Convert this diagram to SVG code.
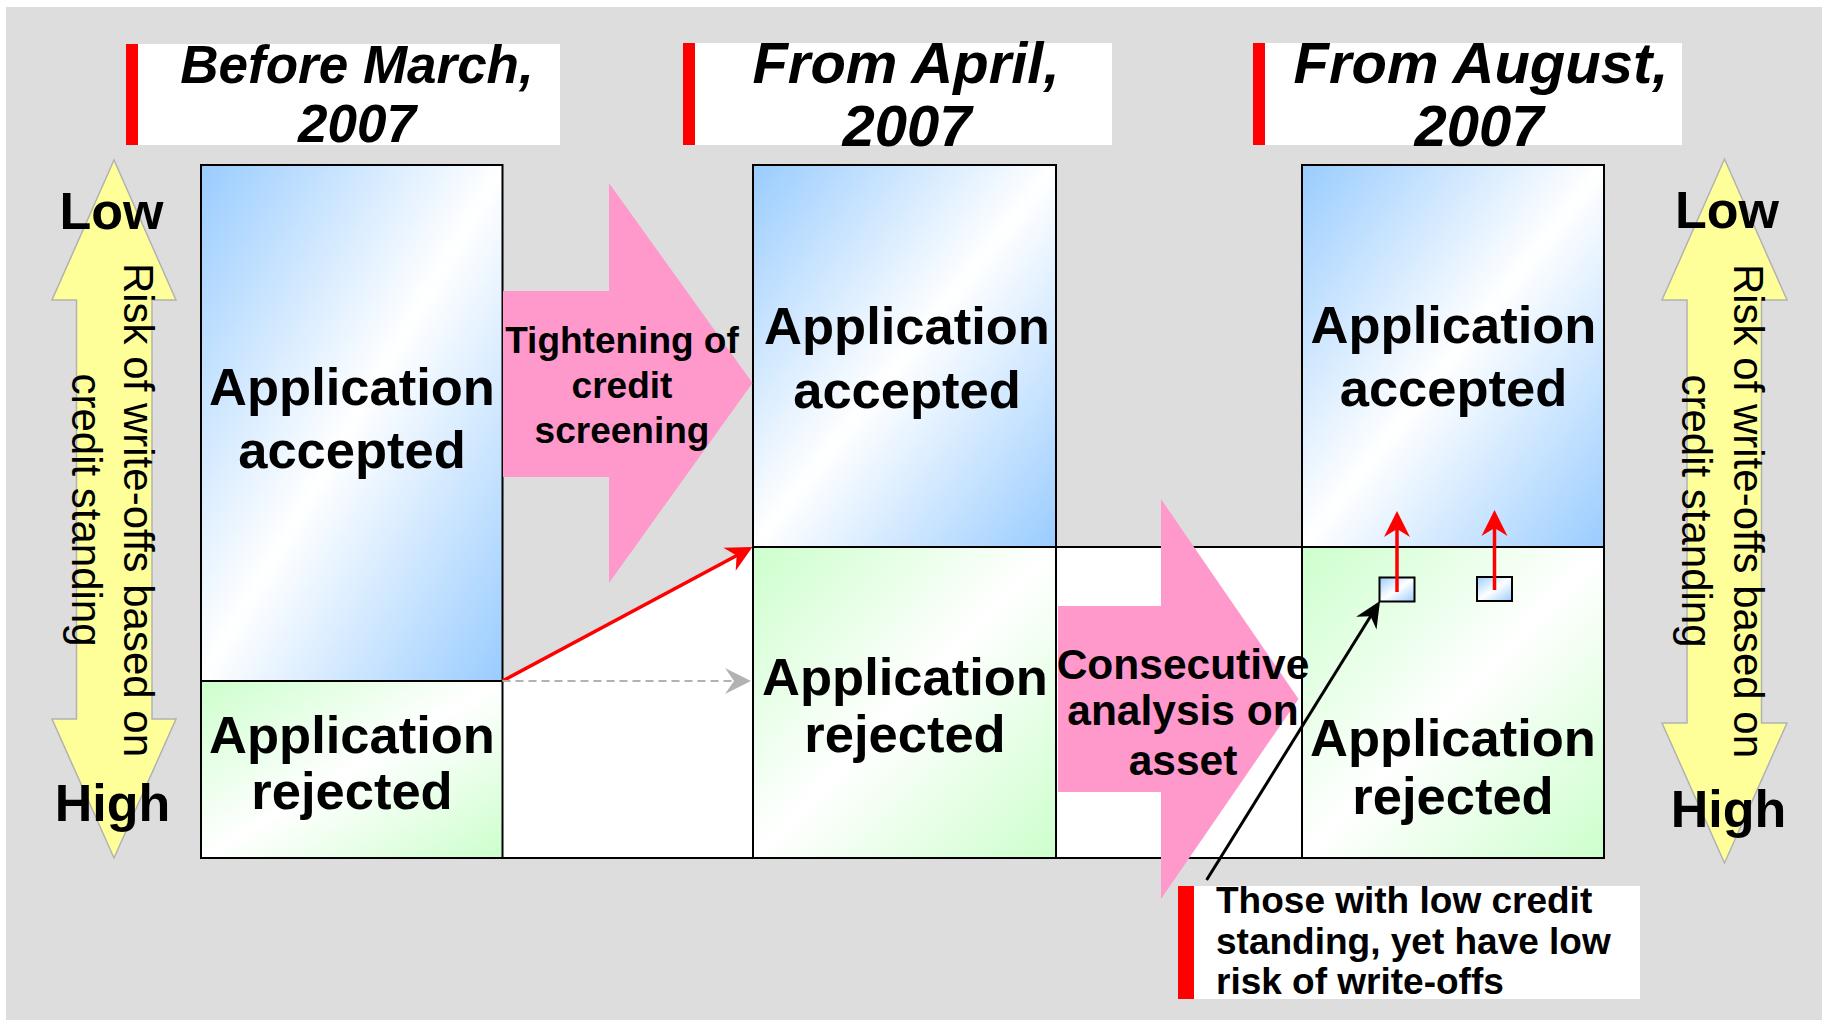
<svg xmlns="http://www.w3.org/2000/svg" width="1822" height="1020" viewBox="0 0 1822 1020">
<defs>
  <linearGradient id="gBlue" x1="0" y1="0" x2="1" y2="1">
    <stop offset="0" stop-color="#99CCFF"/>
    <stop offset="0.5" stop-color="#FFFFFF"/>
    <stop offset="1" stop-color="#99CCFF"/>
  </linearGradient>
  <linearGradient id="gGreen" x1="0" y1="0" x2="1" y2="1">
    <stop offset="0" stop-color="#CCFFCC"/>
    <stop offset="0.5" stop-color="#FFFFFF"/>
    <stop offset="1" stop-color="#CCFFCC"/>
  </linearGradient>
  <marker id="mRed" markerUnits="userSpaceOnUse" viewBox="-28 -15 30 30" markerWidth="30" markerHeight="30" refX="-12" refY="0" orient="auto">
    <path d="M0,0 L-26,-13 L-18,0 L-26,13 Z" fill="#FF0000"/>
  </marker>
  <marker id="mGray" markerUnits="userSpaceOnUse" viewBox="-28 -15 30 30" markerWidth="30" markerHeight="30" refX="-12" refY="0" orient="auto">
    <path d="M0,0 L-26,-13 L-17,0 L-26,13 Z" fill="#B2B2B2"/>
  </marker>
  <marker id="mBlack" markerUnits="userSpaceOnUse" viewBox="-28 -15 30 30" markerWidth="30" markerHeight="30" refX="-12" refY="0" orient="auto">
    <path d="M0,0 L-26,-12 L-18,0 L-26,12 Z" fill="#000000"/>
  </marker>
</defs>
<style>
  .bg{fill:#DDDDDD}
  .hbox{fill:#FFFFFF}
  .bar{fill:#FF0000}
  .ht{font-family:"Liberation Sans",Arial,sans-serif;font-weight:bold;font-style:italic;text-anchor:middle;fill:#000}
  .big{font-family:"Liberation Sans",Arial,sans-serif;font-weight:bold;font-size:52.5px;text-anchor:middle;fill:#000}
  .lh{font-family:"Liberation Sans",Arial,sans-serif;font-weight:bold;font-size:52px;text-anchor:middle;fill:#000}
  .vt{font-family:"Liberation Sans",Arial,sans-serif;font-size:42px;text-anchor:middle;fill:#000}
  .pt{font-family:"Liberation Sans",Arial,sans-serif;font-weight:bold;text-anchor:middle;fill:#000}
  .ct{font-family:"Liberation Sans",Arial,sans-serif;font-weight:bold;font-size:37px;fill:#000}
  .yarrow{fill:#FFFF99;stroke:#B2B2B2;stroke-width:1.5}
  .acc{fill:url(#gBlue);stroke:#000;stroke-width:2}
  .rej{fill:url(#gGreen);stroke:#000;stroke-width:2}
  .pink{fill:#FF99CC}
  .red{stroke:#FF0000;stroke-width:3.5;fill:none}
</style>

<rect class="bg" x="6" y="7" width="1816" height="1013"/>

<g id="header1">
  <rect class="hbox" x="138" y="44" width="422" height="101"/>
  <rect class="bar" x="126" y="44" width="12" height="101"/>
  <text class="ht" font-size="53" x="357" y="83">Before March,</text>
  <text class="ht" font-size="53" x="357" y="142">2007</text>
</g>
<g id="header2">
  <rect class="hbox" x="695" y="43" width="417" height="102"/>
  <rect class="bar" x="683" y="43" width="12" height="102"/>
  <text class="ht" font-size="58" x="906" y="83">From April,</text>
  <text class="ht" font-size="58" x="907" y="146">2007</text>
</g>
<g id="header3">
  <rect class="hbox" x="1265" y="43" width="417" height="102"/>
  <rect class="bar" x="1253" y="43" width="12" height="102"/>
  <text class="ht" font-size="58" x="1481" y="83">From August,</text>
  <text class="ht" font-size="58" x="1479" y="146">2007</text>
</g>

<g id="scale-left">
  <polygon class="yarrow" points="114,160 176,300 152,300 152,719 176,719 114,858 52,719 76.5,719 76.5,300 52,300"/>
  <text class="vt" transform="translate(124,510) rotate(90)">Risk of write-offs based on</text>
  <text class="vt" transform="translate(72,510) rotate(90)">credit standing</text>
  <text class="lh" x="111.5" y="229">Low</text>
  <text class="lh" x="112.5" y="821">High</text>
</g>
<g id="scale-right">
  <polygon class="yarrow" points="1724.5,159 1787,300 1761.5,300 1761.5,723 1787,723 1724.5,863 1662,723 1687,723 1687,300 1662,300"/>
  <text class="vt" transform="translate(1734,511) rotate(90)">Risk of write-offs based on</text>
  <text class="vt" transform="translate(1682,511) rotate(90)">credit standing</text>
  <text class="lh" x="1727" y="228">Low</text>
  <text class="lh" x="1728.5" y="827">High</text>
</g>

<g id="gap1">
  <polygon points="502.5,681 753,547 753,858 502.5,858" fill="#FFFFFF"/>
  <line x1="502.5" y1="858" x2="753" y2="858" stroke="#000" stroke-width="2"/>
</g>
<g id="gap2">
  <rect x="1056" y="547" width="246" height="311" fill="#FFFFFF" stroke="#000" stroke-width="2"/>
</g>

<g id="box1">
  <rect class="acc" x="201" y="165" width="301.5" height="516"/>
  <rect class="rej" x="201" y="681" width="301.5" height="177"/>
  <text class="big" x="352" y="405">Application</text>
  <text class="big" x="352" y="468">accepted</text>
  <text class="big" x="352" y="753">Application</text>
  <text class="big" x="352" y="809">rejected</text>
</g>
<g id="box2">
  <rect class="acc" x="753" y="165" width="303" height="382"/>
  <rect class="rej" x="753" y="547" width="303" height="311"/>
  <text class="big" x="907" y="344">Application</text>
  <text class="big" x="907" y="408">accepted</text>
  <text class="big" x="905" y="695">Application</text>
  <text class="big" x="905" y="752">rejected</text>
</g>
<g id="box3">
  <rect class="acc" x="1302" y="165" width="302" height="382"/>
  <rect class="rej" x="1302" y="547" width="302" height="311"/>
  <text class="big" x="1453.5" y="343">Application</text>
  <text class="big" x="1453.5" y="406">accepted</text>
  <text class="big" x="1453" y="756">Application</text>
  <text class="big" x="1453" y="814">rejected</text>
</g>
<g id="square1">
  <rect class="acc" x="1379.5" y="577.5" width="35" height="24"/>
</g>
<g id="square2">
  <rect class="acc" x="1477" y="577" width="35" height="24"/>
</g>

<g id="arrow-tightening">
  <polygon class="pink" points="503,291 609,291 609,183 752.5,383 609,583 609,477 503,477"/>
  <text class="pt" font-size="37" x="622" y="353">Tightening of</text>
  <text class="pt" font-size="37" x="622" y="398">credit</text>
  <text class="pt" font-size="37" x="622" y="443">screening</text>
</g>
<g id="arrow-consecutive">
  <polygon class="pink" points="1058,606 1161,606 1161,499 1298.5,699 1161,899 1161,792 1058,792"/>
  <text class="pt" font-size="42.5" x="1183" y="679">Consecutive</text>
  <text class="pt" font-size="42.5" x="1183" y="725">analysis on</text>
  <text class="pt" font-size="42.5" x="1183" y="775">asset</text>
</g>

<g id="connectors">
  <line x1="502.5" y1="681" x2="741.9" y2="552.7" class="red" marker-end="url(#mRed)"/>
  <line x1="502.5" y1="681" x2="739" y2="681" stroke="#B2B2B2" stroke-width="2" stroke-dasharray="8,5" marker-end="url(#mGray)"/>
  <line x1="1397" y1="592" x2="1397" y2="523" class="red" marker-end="url(#mRed)"/>
  <line x1="1494.5" y1="590" x2="1494.5" y2="522" class="red" marker-end="url(#mRed)"/>
  <line x1="1206.6" y1="880" x2="1373.7" y2="611.2" stroke="#000" stroke-width="3" marker-end="url(#mBlack)"/>
</g>

<g id="callout">
  <rect class="hbox" x="1194" y="886" width="446" height="113"/>
  <rect class="bar" x="1178" y="886" width="16" height="113"/>
  <text class="ct" x="1216" y="913">Those with low credit</text>
  <text class="ct" x="1216" y="954">standing, yet have low</text>
  <text class="ct" x="1216" y="994">risk of write-offs</text>
</g>
</svg>
